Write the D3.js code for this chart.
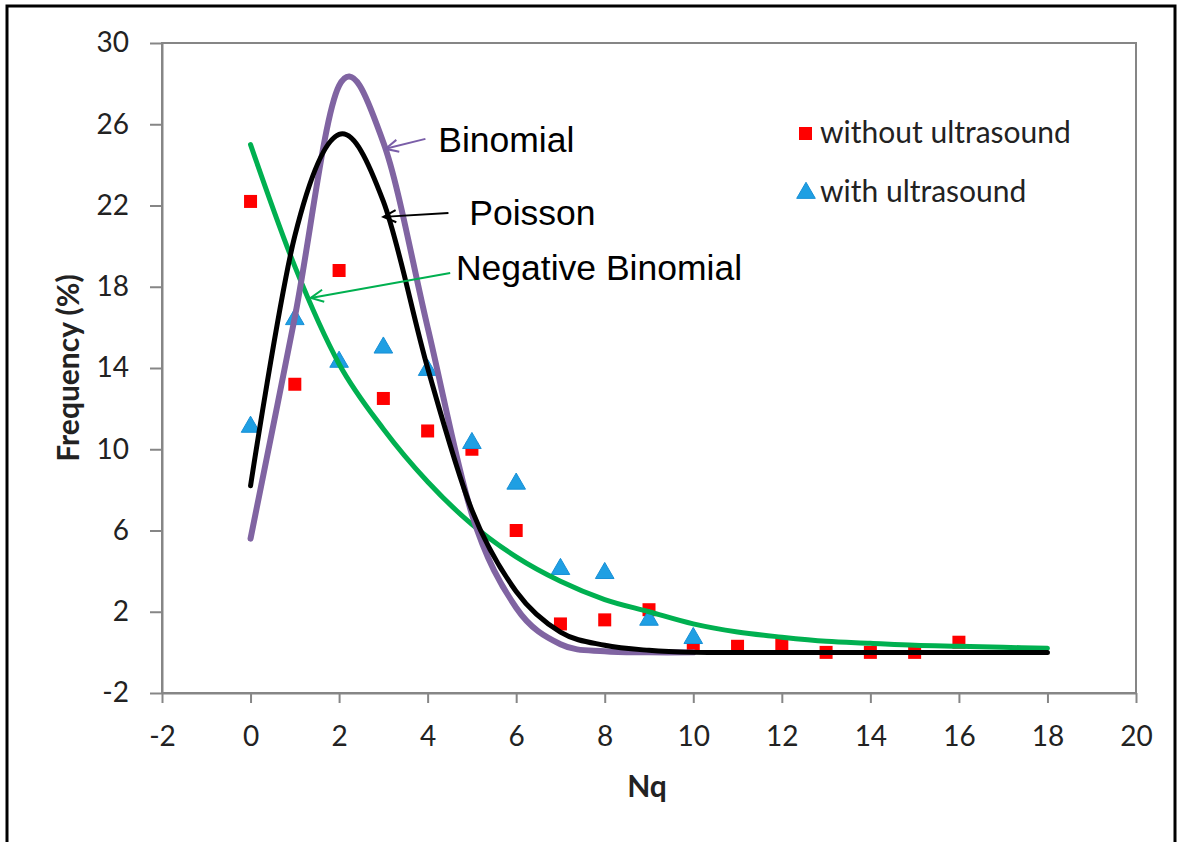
<!DOCTYPE html>
<html>
<head>
<meta charset="utf-8">
<script src="https://cdn.jsdelivr.net/npm/d3@7"></script>
<style>
  body { margin: 0; background: #fff; }
  .axis text { font-family: Lato, "Open Sans", sans-serif; font-size: 28px; fill: #222; }
  .axis path, .axis line { stroke: #868686; stroke-width: 2; }
  .note { font-family: "Liberation Sans", Arial, sans-serif; font-size: 35.5px; fill: #000; }
  .legend text { font-family: Lato, "Open Sans", sans-serif; font-size: 30px; fill: #222; }
  .title { font-family: Lato, sans-serif; font-size: 30px; font-weight: bold; fill: #222; }
</style>
</head>
<body>
<svg id="chart" width="1179" height="842"></svg>
<script>
// data
const nq = d3.range(0, 19);
const withoutUltrasound = [22.2, 13.2, 18.8, 12.5, 10.9, 10.0, 6.0, 1.4, 1.6, 2.1, 0.3, 0.3, 0.4, 0.0, 0.0, 0.0, 0.5];
const withUltrasound = [11.1, 16.4, 14.3, 15.0, 13.9, 10.3, 8.3, 4.1, 3.9, 1.6, 0.7];
const binomial = [5.6, 16.5, 27.9, 25.1, 16.0, 6.8, 2.2, 0.4, 0.05, 0.0, 0.0];
const poisson = [8.2, 20.5, 25.5, 22.2, 14.0, 7.0, 3.0, 1.0, 0.35, 0.1, 0, 0, 0, 0, 0, 0, 0, 0, 0];
const negBinomial = [25.0, 19.0, 14.2, 11.0, 8.4, 6.3, 4.7, 3.5, 2.6, 2.0, 1.4, 1.0, 0.75, 0.55, 0.45, 0.35, 0.3, 0.25, 0.2];
const xTicks = d3.range(-2, 21, 2);
const yTicks = d3.range(-2, 31, 4);

// label arrows: [label, text x, text y, arrow start x, y, arrow tip x, y, colour] in data units
const notes = [
  ["Binomial", 4.24, 24.64, 3.95, 25.28, 3.05, 24.79, "#7a5ea8"],
  ["Poisson", 4.94, 21.04, 4.47, 21.63, 3.0, 21.44, "#000"],
  ["Negative Binomial", 4.64, 18.33, 4.51, 18.68, 1.36, 17.45, "#00b050"]
];

const svg = d3.select("#chart");
const x = d3.scaleLinear().domain([-2, 20]).range([162, 1136]);
const y = d3.scaleLinear().domain([-2, 30]).range([693, 43]);
const fmt = d => (d < 0 ? "-" + Math.abs(d) : String(d));

// outer frame
svg.append("path")
  .attr("d", "M7,850 V6 H1175 V850")
  .attr("fill", "none")
  .attr("stroke", "#000")
  .attr("stroke-width", 3);

// plot frame
svg.append("rect")
  .attr("x", x(-2)).attr("y", y(30))
  .attr("width", x(20) - x(-2)).attr("height", y(-2) - y(30))
  .attr("fill", "none").attr("stroke", "#868686").attr("stroke-width", 2);

svg.append("g")
  .attr("class", "axis")
  .attr("transform", `translate(0,${y(-2)})`)
  .call(d3.axisBottom(x).tickValues(xTicks).tickFormat(fmt).tickSize(10).tickSizeOuter(0).tickPadding(23))
  .selectAll(".tick text").attr("dy", "0.71em");

svg.append("g")
  .attr("class", "axis")
  .attr("transform", `translate(${x(-2)},0)`)
  .call(d3.axisLeft(y).tickValues(yTicks).tickFormat(fmt).tickSize(12).tickSizeOuter(0).tickPadding(21));

// axis titles
svg.append("text")
  .attr("class", "title")
  .attr("transform", `translate(79,${(y(30) + y(-2)) / 2}) rotate(-90)`)
  .attr("text-anchor", "middle")
  .text("Frequency (%)");

svg.append("text")
  .attr("class", "title")
  .attr("x", (x(-2) + x(20)) / 2 - 2).attr("y", 797)
  .attr("text-anchor", "middle")
  .text("Nq");

// markers
svg.append("g").selectAll("rect")
  .data(withoutUltrasound)
  .join("rect")
  .attr("x", (d, i) => x(nq[i]) - 6.5)
  .attr("y", d => y(d) - 6.5)
  .attr("width", 13).attr("height", 13)
  .attr("fill", "#ff0000");

svg.append("g").selectAll("path")
  .data(withUltrasound)
  .join("path")
  .attr("transform", (d, i) => `translate(${x(nq[i])},${y(d)})`)
  .attr("d", d3.symbol(d3.symbolTriangle, 150))
  .attr("fill", "#1f9fe3")
  .attr("stroke", "#178fd6")
  .attr("stroke-width", 1);

// fitted curves (smoothed like the spreadsheet lines)
const line = d3.line()
  .x((d, i) => x(nq[i]))
  .y(d => y(d))
  .curve(d3.curveCatmullRom.alpha(0));

svg.append("path").datum(negBinomial)
  .attr("d", line).attr("fill", "none")
  .attr("stroke", "#00b050").attr("stroke-width", 5).attr("stroke-linecap", "round");

svg.append("path").datum(binomial)
  .attr("d", line).attr("fill", "none")
  .attr("stroke", "#8064a2").attr("stroke-width", 6).attr("stroke-linecap", "round");

svg.append("path").datum(poisson)
  .attr("d", line).attr("fill", "none")
  .attr("stroke", "#000").attr("stroke-width", 5).attr("stroke-linecap", "round");

// annotations
const ng = svg.append("g");
notes.forEach(([label, tx, ty, sx, sy, ex, ey, col]) => {
  const x1 = x(sx), y1 = y(sy), x2 = x(ex), y2 = y(ey);
  const a = Math.atan2(y1 - y2, x1 - x2);
  const h = 14, w = 0.45;
  ng.append("line")
    .attr("x1", x1).attr("y1", y1).attr("x2", x2).attr("y2", y2)
    .attr("stroke", col).attr("stroke-width", 2);
  ng.append("path")
    .attr("d", `M${x2 + h * Math.cos(a + w)},${y2 + h * Math.sin(a + w)} L${x2},${y2} L${x2 + h * Math.cos(a - w)},${y2 + h * Math.sin(a - w)}`)
    .attr("fill", "none").attr("stroke", col).attr("stroke-width", 2);
  ng.append("text").attr("class", "note")
    .attr("x", x(tx)).attr("y", y(ty))
    .text(label);
});

// legend
const legend = svg.append("g").attr("class", "legend");
legend.append("rect")
  .attr("x", 799).attr("y", 127).attr("width", 13).attr("height", 13)
  .attr("fill", "#ff0000");
legend.append("text").attr("x", 820).attr("y", 143).text("without ultrasound");
legend.append("path")
  .attr("transform", "translate(806,193)")
  .attr("d", d3.symbol(d3.symbolTriangle, 150))
  .attr("fill", "#1f9fe3").attr("stroke", "#178fd6");
legend.append("text").attr("x", 820).attr("y", 202).text("with ultrasound");
</script>
</body>
</html>
